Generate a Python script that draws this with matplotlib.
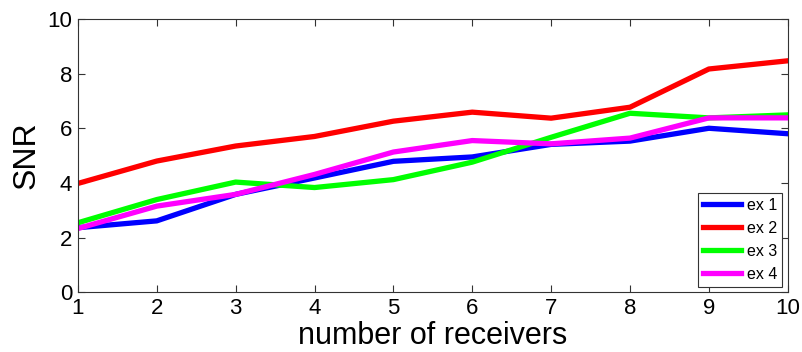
import matplotlib
matplotlib.use("Agg")
import matplotlib.pyplot as plt

plt.rcParams['font.family'] = ['Liberation Sans', 'DejaVu Sans']

receivers = [1, 2, 3, 4, 5, 6, 7, 8, 9, 10]
ex1 = [2.36, 2.61, 3.58, 4.18, 4.79, 4.95, 5.41, 5.53, 6.00, 5.80]
ex2 = [3.98, 4.80, 5.35, 5.70, 6.26, 6.59, 6.37, 6.77, 8.17, 8.47]
ex3 = [2.54, 3.39, 4.03, 3.83, 4.12, 4.76, 5.67, 6.55, 6.38, 6.49]
ex4 = [2.33, 3.15, 3.58, 4.31, 5.13, 5.55, 5.43, 5.64, 6.38, 6.38]
labels = ['ex 1', 'ex 2', 'ex 3', 'ex 4']
colors = ['#0000ff', '#ff0000', '#00ff00', '#ff00ff']

fig = plt.figure(figsize=(8.03, 3.52), dpi=100)
ax = fig.add_axes([0.097, 0.170, 0.884, 0.776])

for ys, lab, c in zip([ex1, ex2, ex3, ex4], labels, colors):
    ax.plot(receivers, ys, color=c, lw=3.8, label=lab)

ax.set_xlim(1, 10)
ax.set_ylim(0, 10)
ax.set_xticks(receivers)
ax.set_yticks([0, 2, 4, 6, 8, 10])
ax.tick_params(direction='in', top=True, right=True, labelsize=16, length=5,
               color='#333333', pad=4)
for s in ax.spines.values():
    s.set_color('#333333')
ax.set_xlabel('number of receivers', fontsize=22, labelpad=2)
ax.set_ylabel('SNR', fontsize=23, labelpad=4)

leg = ax.legend(loc='lower right', fontsize=11.5, fancybox=False, framealpha=1,
                edgecolor='#333333', handlelength=2.4, borderaxespad=0.35,
                labelspacing=0.5, handletextpad=0.35, borderpad=0.3)
leg.get_frame().set_linewidth(0.8)

fig.savefig('out.png', dpi=100)
